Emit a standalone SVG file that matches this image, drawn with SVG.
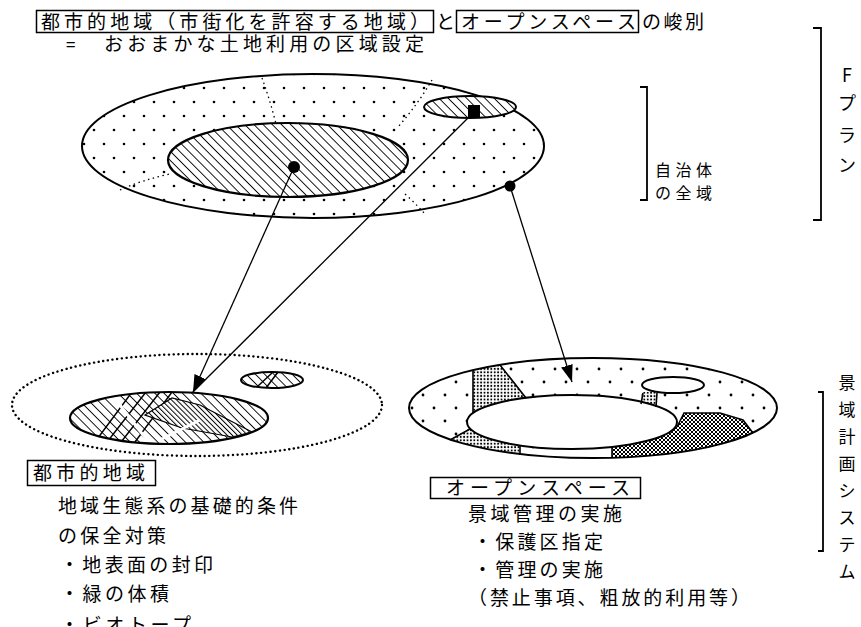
<svg xmlns="http://www.w3.org/2000/svg" width="861" height="627" viewBox="0 0 861 627">
<style>
text{font-family:"Noto Sans CJK JP","Noto Sans CJK SC",sans-serif;fill:#000}
.t19{font-size:19px}
.t17{font-size:17px}
.t16{font-size:16px}
.t18{font-size:18px}
.v{text-anchor:middle}
.box{fill:none;stroke:#000;stroke-width:1.5}
.brk{fill:none;stroke:#000;stroke-width:1.8}
.dash{fill:none;stroke:#000;stroke-width:1.3;stroke-dasharray:1.5 3.5}
.conn{fill:none;stroke:#000;stroke-width:1.3}
.edge{fill:none;stroke:#000;stroke-width:1.6}
</style>
<defs>
  <pattern id="dots" width="20" height="28" patternUnits="userSpaceOnUse">
    <rect width="20" height="28" fill="#fff"/>
    <circle cx="4" cy="4" r="1.3"/>
    <circle cx="14" cy="18" r="1.3"/>
  </pattern>
  <pattern id="dotsR" width="22" height="26" patternUnits="userSpaceOnUse">
    <rect width="22" height="26" fill="#fff"/>
    <circle cx="5" cy="5" r="1.4"/>
    <circle cx="16" cy="18" r="1.4"/>
  </pattern>
  <pattern id="hatch" width="6.5" height="6.5" patternUnits="userSpaceOnUse" patternTransform="rotate(-45)">
    <rect width="6.5" height="6.5" fill="#fff"/>
    <line x1="0" y1="0" x2="0" y2="6.5" stroke="#000" stroke-width="1.8"/>
  </pattern>
  <pattern id="hatchD" width="3.6" height="3.6" patternUnits="userSpaceOnUse" patternTransform="rotate(-45)">
    <rect width="3.6" height="3.6" fill="#fff"/>
    <line x1="0" y1="0" x2="0" y2="3.6" stroke="#000" stroke-width="2"/>
  </pattern>
  <pattern id="stip" width="3.4" height="3.4" patternUnits="userSpaceOnUse">
    <rect width="3.4" height="3.4" fill="#fff"/>
    <circle cx="1.7" cy="1.7" r="1"/>
  </pattern>
  <pattern id="xh" width="4" height="4" patternUnits="userSpaceOnUse">
    <rect width="4" height="4" fill="#fff"/>
    <path d="M0,0L4,4M4,0L0,4" stroke="#000" stroke-width="1"/>
  </pattern>
  <clipPath id="clipL">
    <ellipse cx="169" cy="418" rx="99" ry="26"/>
  </clipPath>
  <clipPath id="clipRing">
    <path clip-rule="evenodd" d="M409,408a184,50 0 1,0 368,0a184,50 0 1,0 -368,0zM467,422a105,27 0 1,0 210,0a105,27 0 1,0 -210,0zM642,385a31,8 0 1,0 62,0a31,8 0 1,0 -62,0z"/>
  </clipPath>
  <marker id="ah" markerWidth="17" markerHeight="12" refX="17" refY="6" orient="auto" markerUnits="userSpaceOnUse">
    <path d="M0,0L17,6L0,12z"/>
  </marker>
</defs>

<g id="title">
  <rect class="box" x="36.5" y="10.5" width="397" height="22"/>
  <text class="t19" x="41" y="29" textLength="388" lengthAdjust="spacing">都市的地域（市街化を許容する地域）</text>
  <text class="t19" x="436" y="29">と</text>
  <rect class="box" x="456.5" y="10.5" width="182" height="22"/>
  <text class="t19" x="461" y="29" textLength="175" lengthAdjust="spacing">オープンスペース</text>
  <text class="t19" x="642" y="29" textLength="62" lengthAdjust="spacing">の峻別</text>
  <text class="t17" x="66" y="51">=</text>
  <text class="t19" x="104" y="51" textLength="320" lengthAdjust="spacing">おおまかな土地利用の区域設定</text>
</g>

<g id="fplan-bracket">
  <path class="brk" d="M813,28H821V220H813"/>
  <text class="t18 v" x="847" y="82">F</text>
  <text class="t18 v" x="847" y="110">プ</text>
  <text class="t18 v" x="847" y="142">ラ</text>
  <text class="t18 v" x="847" y="172">ン</text>
</g>

<g id="municipality-bracket">
  <path class="brk" d="M640,87H647V200H640" stroke-width="2.2"/>
  <text class="t16" x="655" y="176" textLength="57" lengthAdjust="spacing">自治体</text>
  <text class="t16" x="655" y="199" textLength="57" lengthAdjust="spacing">の全域</text>
</g>

<g id="map-top">
  <ellipse cx="313" cy="146" rx="231" ry="72" fill="url(#dots)" stroke="#000" stroke-width="2"/>
  <path class="dash" d="M262,78Q270,100 276,124"/>
  <path class="dash" d="M432,80Q418,104 398,127"/>
  <path class="dash" d="M120,190Q142,180 170,174"/>
  <path class="dash" d="M405,194Q416,204 425,214"/>
  <ellipse cx="288" cy="160" rx="120" ry="37" fill="url(#hatch)" stroke="#000" stroke-width="2.2"/>
  <ellipse cx="470" cy="107" rx="46" ry="11" fill="url(#hatch)" stroke="#000" stroke-width="2"/>
</g>

<g id="map-urban">
  <ellipse cx="197" cy="405" rx="185" ry="51" fill="none" stroke="#000" stroke-width="2.4" stroke-dasharray="0.1 4.6" stroke-linecap="round"/>
  <ellipse cx="272" cy="380" rx="31" ry="8" fill="url(#hatch)" stroke="#000" stroke-width="2"/>
  <path d="M266,388L278,372M258,386L272,373" stroke="#000" stroke-width="1.5" fill="none"/>
  <ellipse cx="169" cy="418" rx="99" ry="26" fill="url(#hatch)"/>
  <g clip-path="url(#clipL)" fill="none" stroke="#000" stroke-width="1.5">
    <path d="M92,446L132,392M104,446L146,392M118,446L160,392M132,446L172,392"/>
    <path d="M145,415L172,398L200,405L252,432L232,437L182,428Z" fill="url(#hatchD)" stroke-width="1.2"/>
    <path d="M160,440L200,420M110,392L150,444" stroke="#fff" stroke-width="3"/>
  </g>
  <ellipse cx="169" cy="418" rx="99" ry="26" fill="none" stroke="#000" stroke-width="2.2"/>
</g>

<g id="map-openspace">
  <path fill="url(#dotsR)" fill-rule="evenodd" d="M409,408a184,50 0 1,0 368,0a184,50 0 1,0 -368,0zM467,422a105,27 0 1,0 210,0a105,27 0 1,0 -210,0zM642,385a31,8 0 1,0 62,0a31,8 0 1,0 -62,0z"/>
  <g clip-path="url(#clipRing)">
    <polygon points="473,350 497,350 500,364 526,398 473,418" fill="url(#stip)"/>
    <polygon points="440,470 450,440 470,428 520,438 520,470" fill="url(#stip)"/>
    <polygon points="612,470 612,443 660,435 664,427 682,417 684,413 720,413 743,420 753,432 790,432 790,470" fill="url(#xh)"/>
    <polygon points="643,392 657,392 655,411 640,415" fill="url(#stip)"/>
    <polygon points="668,412 684,412 682,417 677,427 668,427" fill="#fff"/>
  </g>
  <path class="edge" d="M473,370V413M500,365L526,398M450,440L470,429M520,446V455M612,447V458M677,427L682,417L684,413L720,413L743,420L753,433M643,393L641,404M657,393L656,407"/>
  <path fill="none" stroke="#000" stroke-width="2" d="M409,408a184,50 0 1,0 368,0a184,50 0 1,0 -368,0zM467,422a105,27 0 1,0 210,0a105,27 0 1,0 -210,0zM642,385a31,8 0 1,0 62,0a31,8 0 1,0 -62,0z"/>
</g>

<g id="urban-text">
  <rect class="box" x="27.5" y="460.5" width="128" height="25"/>
  <text class="t19" x="33" y="480" textLength="112" lengthAdjust="spacing">都市的地域</text>
  <text class="t19" x="58" y="513" textLength="240" lengthAdjust="spacing">地域生態系の基礎的条件</text>
  <text class="t19" x="58" y="543" textLength="108" lengthAdjust="spacing">の保全対策</text>
  <text class="t19" x="60" y="572" textLength="153" lengthAdjust="spacing">・地表面の封印</text>
  <text class="t19" x="60" y="601" textLength="109" lengthAdjust="spacing">・緑の体積</text>
  <text class="t19" x="60" y="632" textLength="131" lengthAdjust="spacing">・ビオトープ</text>
</g>

<g id="openspace-text">
  <rect class="box" x="430.5" y="477.5" width="210" height="21"/>
  <text class="t19" x="446" y="495" textLength="184" lengthAdjust="spacing">オープンスペース</text>
  <text class="t19" x="468" y="521" textLength="154" lengthAdjust="spacing">景域管理の実施</text>
  <text class="t19" x="473" y="549" textLength="130" lengthAdjust="spacing">・保護区指定</text>
  <text class="t19" x="473" y="577" textLength="130" lengthAdjust="spacing">・管理の実施</text>
  <text class="t19" x="468" y="605" textLength="282" lengthAdjust="spacing">（禁止事項、粗放的利用等）</text>
</g>

<g id="keiiki-bracket">
  <path class="brk" d="M818,392H823V551H818" stroke-width="1.4"/>
  <text class="t17 v" x="847" y="389">景</text>
  <text class="t17 v" x="847" y="416">域</text>
  <text class="t17 v" x="847" y="443">計</text>
  <text class="t17 v" x="847" y="470">画</text>
  <text class="t17 v" x="847" y="497">シ</text>
  <text class="t17 v" x="847" y="524">ス</text>
  <text class="t17 v" x="847" y="551">テ</text>
  <text class="t17 v" x="847" y="578">ム</text>
</g>

<g id="connectors">
  <line class="conn" x1="294" y1="167" x2="193" y2="392" marker-end="url(#ah)"/>
  <line class="conn" x1="474" y1="112" x2="193" y2="392"/>
  <line class="conn" x1="510" y1="186" x2="572" y2="382" marker-end="url(#ah)"/>
  <circle cx="294" cy="167" r="6"/>
  <rect x="468" y="105" width="12" height="13"/>
  <circle cx="510" cy="186" r="5.5"/>
</g>
</svg>
